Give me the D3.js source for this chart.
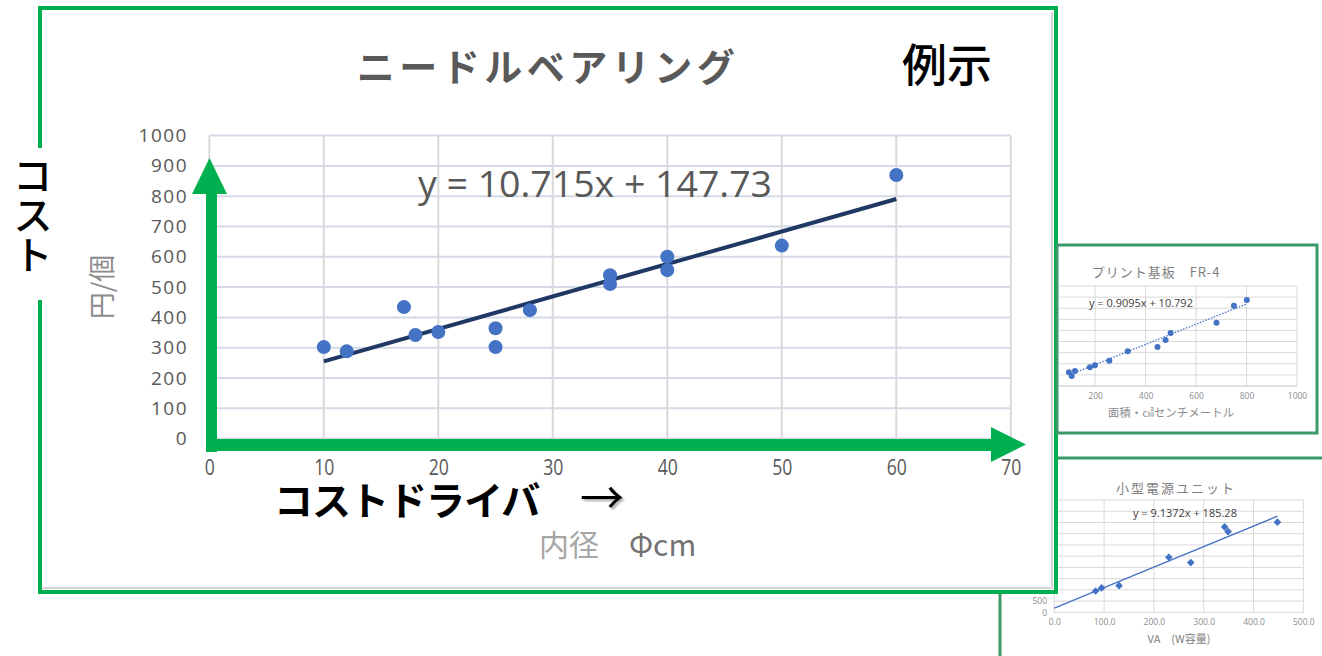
<!DOCTYPE html>
<html>
<head>
<meta charset="utf-8">
<script src="https://cdn.jsdelivr.net/npm/d3@7"></script>
<style>
body { margin: 0; background: #fff; }
svg { display: block; }
</style>
</head>
<body>
<div id="chart"></div>
<script>
// ニードルベアリング (main chart)
const bearingDiameters = [10, 12, 17, 18, 20, 25, 25, 28, 35, 35, 40, 40, 50, 60];
const bearingCosts = [302, 288, 434, 342, 352, 364, 302, 424, 539, 510, 600, 556, 637, 870];
const bearingTrend = [10.715, 147.73];   // slope, intercept
const bearingXTicks = [0, 10, 20, 30, 40, 50, 60, 70];
const bearingYTicks = [0, 100, 200, 300, 400, 500, 600, 700, 800, 900, 1000];

// プリント基板 FR-4 (inset 1)
const pcbAreas = [96, 107, 120, 179, 199, 256, 329, 447, 479, 499, 681, 750, 801];
const pcbCosts = [123, 90, 135, 168, 186, 228, 313, 351, 414, 477, 570, 723, 775];
const pcbTrend = [0.9095, 10.792];
const pcbXTicks = [0, 200, 400, 600, 800, 1000];
const pcbYTicks = [0, 100, 200, 300, 400, 500, 600, 700, 800, 900];

// 小型電源ユニット (inset 2)
const psuVA = [83, 95, 130, 230, 274, 342, 349, 448];
const psuCosts = [949, 1083, 1187, 2451, 2212, 3801, 3593, 4011];
const psuTrend = [9.1372, 185.28];
const psuXTicks = [0, 100, 200, 300, 400, 500];
const psuYTicks = [0, 500, 1000, 1500, 2000, 2500, 3000, 3500, 4000, 4500, 5000];

const JP = '"Noto Sans CJK JP", sans-serif';
const NUM = '"Open Sans", "Noto Sans", sans-serif';
const GREEN = '#00b050';
const INSET_GREEN = '#3a9a68';
const DOT = '#4472c4';

const svg = d3.select('#chart')
    .append('svg')
    .attr('width', 1322)
    .attr('height', 656)
;

// 矢印の影
svg.append('defs')
    .append('filter')
    .attr('id', 'arrow_shadow')
    .append('feDropShadow')
    .attr('dx', 2).attr('dy', 2)
    .attr('stdDeviation', 1)
    .attr('flood-color', '#000')
    .attr('flood-opacity', 0.35)
;

// 共通: 回帰直線
function trendPoints(xs, trend, fromZero) {
    const ext = d3.extent(xs);
    const x0 = fromZero ? 0 : ext[0];
    return [x0, ext[1]].map(x => [x, trend[0] * x + trend[1]]);
}

// ---------- 小型電源ユニット (behind the main box) ----------
{
    const g = svg.append('g');
    const x = d3.scaleLinear().domain([0, 500]).range([1054.3, 1303.3]);
    const y = d3.scaleLinear().domain([0, 5000]).range([612.3, 500]);

    g.append('rect')
        .attr('x', 1000).attr('y', 458)
        .attr('width', 340).attr('height', 220)
        .attr('fill', '#fff')
        .attr('stroke', INSET_GREEN)
        .attr('stroke-width', 3)
    ;
    g.append('g').selectAll('line').data(psuYTicks).join('line')
        .attr('x1', x(0)).attr('x2', x(500))
        .attr('y1', d => y(d)).attr('y2', d => y(d))
        .attr('stroke', '#d9d9d9').attr('stroke-width', 1)
    ;
    g.append('g').selectAll('line').data(psuXTicks).join('line')
        .attr('x1', d => x(d)).attr('x2', d => x(d))
        .attr('y1', y(0)).attr('y2', y(5000))
        .attr('stroke', '#d9d9d9').attr('stroke-width', 1)
    ;
    const ax = g.append('g')
        .attr('transform', 'translate(0,625)')
        .call(d3.axisBottom(x).tickValues(psuXTicks).tickSize(0).tickFormat(d3.format('.1f')));
    ax.select('.domain').remove();
    ax.selectAll('text').attr('y', 0).attr('dy', 0)
        .attr('font-family', NUM).attr('font-size', 8.5).attr('fill', '#8c8c8c');

    const ay = g.append('g')
        .attr('transform', 'translate(1047,0)')
        .call(d3.axisLeft(y).tickValues(psuYTicks).tickSize(0).tickPadding(0).tickFormat(d3.format('d')));
    ay.select('.domain').remove();
    ay.selectAll('text')
        .attr('font-family', NUM).attr('font-size', 8.5).attr('fill', '#8c8c8c');

    g.append('path')
        .datum(trendPoints(psuVA, psuTrend, true))
        .attr('d', d3.line().x(d => x(d[0])).y(d => y(d[1])))
        .attr('fill', 'none').attr('stroke', DOT).attr('stroke-width', 1.3)
    ;
    g.append('g').selectAll('path').data(psuVA).join('path')
        .attr('transform', (d, i) => `translate(${x(d)},${y(psuCosts[i])})`)
        .attr('d', d3.symbol(d3.symbolDiamond2, 38))
        .attr('fill', DOT)
    ;
    g.append('text')
        .text('小型電源ユニット')
        .attr('x', 1176).attr('y', 493)
        .attr('text-anchor', 'middle')
        .attr('font-family', JP).attr('font-size', 13)
        .attr('letter-spacing', 2)
        .attr('fill', '#7f7f7f')
    ;
    g.append('text')
        .text('y = 9.1372x + 185.28')
        .attr('x', 1133).attr('y', 517)
        .attr('font-family', NUM).attr('font-size', 11)
        .attr('fill', '#404040')
    ;
    g.append('text')
        .text('VA　(W容量)')
        .attr('x', 1179).attr('y', 643)
        .attr('text-anchor', 'middle')
        .attr('font-family', JP).attr('font-size', 11)
        .attr('fill', '#7f7f7f')
    ;
}

// ---------- メインのチャート ----------
{
    const g = svg.append('g');
    const x = d3.scaleLinear().domain([0, 70]).range([209.3, 1010.8]);
    const y = d3.scaleLinear().domain([0, 1000]).range([438.6, 135.6]);

    g.append('rect')
        .attr('x', 40).attr('y', 8)
        .attr('width', 1016).attr('height', 584)
        .attr('fill', '#fff')
        .attr('stroke', GREEN)
        .attr('stroke-width', 4)
    ;
    // 内側の影
    g.append('path')
        .attr('d', 'M1052,12 V588 H42')
        .attr('fill', 'none').attr('stroke', '#d6d6d6').attr('stroke-width', 2)
    ;
    // コスト のところは枠線を消す
    g.append('rect')
        .attr('x', 30).attr('y', 148)
        .attr('width', 22).attr('height', 152)
        .attr('fill', '#fff')
    ;

    // 目盛線
    g.append('g').selectAll('line').data(bearingYTicks).join('line')
        .attr('x1', x(0)).attr('x2', x(70))
        .attr('y1', d => y(d)).attr('y2', d => y(d))
        .attr('stroke', '#d3dae6').attr('stroke-width', 2)
    ;
    g.append('g').selectAll('line').data(bearingXTicks).join('line')
        .attr('x1', d => x(d)).attr('x2', d => x(d))
        .attr('y1', y(0)).attr('y2', y(1000))
        .attr('stroke', '#d9d9d9').attr('stroke-width', 2)
    ;

    const ay = g.append('g')
        .attr('transform', 'translate(188,0)')
        .call(d3.axisLeft(y).tickValues(bearingYTicks).tickSize(0).tickPadding(0).tickFormat(d3.format('d')));
    ay.select('.domain').remove();
    ay.selectAll('text')
        .attr('font-family', NUM).attr('font-size', 19)
        .attr('letter-spacing', 1.5)
        .attr('fill', '#595959');

    const ax = g.append('g')
        .attr('transform', 'translate(0,475)')
        .call(d3.axisBottom(x).tickValues(bearingXTicks).tickSize(0));
    ax.select('.domain').remove();
    ax.selectAll('text').attr('y', 0).attr('dy', 0)
        .attr('transform', 'scale(0.8,1)')
        .attr('font-family', NUM).attr('font-size', 22)
        .attr('fill', '#595959');

    // 回帰直線と点
    g.append('path')
        .datum(trendPoints(bearingDiameters, bearingTrend, false))
        .attr('d', d3.line().x(d => x(d[0])).y(d => y(d[1])))
        .attr('fill', 'none').attr('stroke', '#203864').attr('stroke-width', 4)
    ;
    g.append('g').selectAll('circle').data(bearingDiameters).join('circle')
        .attr('cx', d => x(d))
        .attr('cy', (d, i) => y(bearingCosts[i]))
        .attr('r', 7)
        .attr('fill', DOT)
    ;

    g.append('text')
        .text('y = 10.715x + 147.73')
        .attr('x', 418).attr('y', 197)
        .attr('textLength', 354).attr('lengthAdjust', 'spacingAndGlyphs')
        .attr('font-family', NUM).attr('font-size', 37)
        .attr('fill', '#595959')
    ;

    // 緑の矢印
    const arrows = g.append('g').attr('fill', GREEN);
    arrows.append('rect')
        .attr('x', 206).attr('y', 190)
        .attr('width', 11).attr('height', 262)
    ;
    arrows.append('path')
        .attr('d', 'M192,194 L209.5,158 L227,194 Z')
    ;
    arrows.append('rect')
        .attr('x', 206).attr('y', 439)
        .attr('width', 790).attr('height', 12)
    ;
    arrows.append('path')
        .attr('d', 'M991,427 L1026,444.5 L991,462 Z')
    ;

    // テキスト
    g.append('text')
        .text('ニードルベアリング')
        .attr('x', 548).attr('y', 81)
        .attr('text-anchor', 'middle')
        .attr('font-family', JP).attr('font-size', 38).attr('font-weight', 700)
        .attr('letter-spacing', 4.5)
        .attr('fill', '#595959')
    ;
    g.append('text')
        .text('例示')
        .attr('x', 947).attr('y', 82)
        .attr('text-anchor', 'middle')
        .attr('font-family', JP).attr('font-size', 45).attr('font-weight', 500)
        .attr('fill', '#000')
    ;
    g.append('text')
        .text('コスト')
        .attr('x', 33).attr('y', 155)
        .attr('writing-mode', 'tb')
        .attr('font-family', JP).attr('font-size', 40).attr('font-weight', 500)
        .attr('fill', '#000')
    ;
    g.append('text')
        .text('円/個')
        .attr('transform', 'translate(112,287) rotate(-90)')
        .attr('text-anchor', 'middle')
        .attr('font-family', JP).attr('font-size', 27)
        .attr('fill', '#8c8c8c')
    ;
    g.append('text')
        .text('コストドライバ')
        .attr('x', 274).attr('y', 515)
        .attr('letter-spacing', -1)
        .attr('font-family', JP).attr('font-size', 39).attr('font-weight', 700)
        .attr('fill', '#000')
    ;
    g.append('text')
        .text('→')
        .attr('x', 580).attr('y', 514)
        .attr('filter', 'url(#arrow_shadow)')
        .attr('font-family', JP).attr('font-size', 44)
        .attr('fill', '#000')
    ;
    const xl = g.append('text')
        .attr('x', 539).attr('y', 556)
        .attr('font-family', JP).attr('font-size', 30)
    ;
    xl.append('tspan').text('内径').attr('fill', '#a6a6a6');
    xl.append('tspan').text('　Φcm').attr('fill', '#737373');
}

// ---------- プリント基板 FR-4 ----------
{
    const g = svg.append('g');
    const x = d3.scaleLinear().domain([0, 1000]).range([1044.7, 1297]);
    const y = d3.scaleLinear().domain([0, 900]).range([386, 286]);

    g.append('rect')
        .attr('x', 1057).attr('y', 245)
        .attr('width', 260).attr('height', 188)
        .attr('fill', '#fff')
        .attr('stroke', INSET_GREEN)
        .attr('stroke-width', 3)
    ;
    svg.append('clipPath').attr('id', 'pcb_clip')
        .append('rect')
        .attr('x', 1059).attr('y', 247)
        .attr('width', 256).attr('height', 184)
    ;
    const inner = g.append('g').attr('clip-path', 'url(#pcb_clip)');

    inner.append('g').selectAll('line').data(pcbYTicks).join('line')
        .attr('x1', x(0)).attr('x2', x(1000))
        .attr('y1', d => y(d)).attr('y2', d => y(d))
        .attr('stroke', d => d === 0 ? '#bfbfbf' : '#d9d9d9').attr('stroke-width', 1)
    ;
    inner.append('g').selectAll('line').data(pcbXTicks).join('line')
        .attr('x1', d => x(d)).attr('x2', d => x(d))
        .attr('y1', y(0)).attr('y2', y(900))
        .attr('stroke', '#d9d9d9').attr('stroke-width', 1)
    ;
    const ax = inner.append('g')
        .attr('transform', 'translate(0,399)')
        .call(d3.axisBottom(x).tickValues(pcbXTicks.slice(1)).tickSize(0).tickFormat(d3.format('d')));
    ax.select('.domain').remove();
    ax.selectAll('text').attr('y', 0).attr('dy', 0)
        .attr('font-family', NUM).attr('font-size', 8.5).attr('fill', '#8c8c8c');

    inner.append('path')
        .datum(trendPoints(pcbAreas, pcbTrend, false))
        .attr('d', d3.line().x(d => x(d[0])).y(d => y(d[1])))
        .attr('fill', 'none').attr('stroke', DOT).attr('stroke-width', 1.3)
        .attr('stroke-dasharray', '1.5,1.5')
    ;
    inner.append('g').selectAll('circle').data(pcbAreas).join('circle')
        .attr('cx', d => x(d))
        .attr('cy', (d, i) => y(pcbCosts[i]))
        .attr('r', 3)
        .attr('fill', DOT)
    ;
    g.append('text')
        .text('プリント基板　FR-4')
        .attr('x', 1156).attr('y', 277)
        .attr('text-anchor', 'middle')
        .attr('font-family', JP).attr('font-size', 13)
        .attr('letter-spacing', 1)
        .attr('fill', '#7f7f7f')
    ;
    g.append('text')
        .text('y = 0.9095x + 10.792')
        .attr('x', 1089).attr('y', 307)
        .attr('font-family', NUM).attr('font-size', 11)
        .attr('fill', '#404040')
    ;
    g.append('text')
        .text('面積・㎠センチメートル')
        .attr('x', 1171).attr('y', 417)
        .attr('text-anchor', 'middle')
        .attr('font-family', JP).attr('font-size', 11.5)
        .attr('fill', '#8c8c8c')
    ;
}
</script>
</body>
</html>
